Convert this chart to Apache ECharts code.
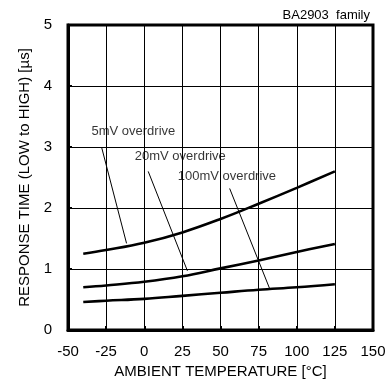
<!DOCTYPE html>
<html>
<head>
<meta charset="utf-8">
<script src="https://cdn.jsdelivr.net/npm/echarts@6/dist/echarts.min.js"></script>
<style>
html,body{margin:0;padding:0;background:#fff;}
#c{width:392px;height:384px;}
</style>
</head>
<body>
<div id="c"></div>
<script>
// Data
const temps = [-40, -25, 0, 25, 50, 75, 100, 125];
const od5mV = [1.25, 1.31, 1.43, 1.60, 1.82, 2.07, 2.33, 2.60];
const od20mV = [0.70, 0.73, 0.79, 0.88, 1.01, 1.14, 1.28, 1.41];
const od100mV = [0.46, 0.48, 0.51, 0.56, 0.61, 0.66, 0.70, 0.75];
const xTicks = [-50, -25, 0, 25, 50, 75, 100, 125, 150];
const yTicks = [0, 1, 2, 3, 4, 5];
const labelNames = ['5mV overdrive', '20mV overdrive', '100mV overdrive'];
const labelPos = [[-34.6, 3.25], [-6.2, 2.84], [22.0, 2.52]];
const leaderStart = [[-27.9, 2.99], [2.6, 2.60], [56.0, 2.32]];
const leaderEnd = [[-11.6, 1.42], [28.3, 0.97], [82.2, 0.68]];
const noteText = 'BA2903  family';

const font = 'Liberation Sans, Arial, sans-serif';
const chart = echarts.init(document.getElementById('c'), null, {renderer: 'canvas'});

const curveSeries = [od5mV, od20mV, od100mV].map(vals => ({
  type: 'line',
  data: temps.map((t, i) => [t, vals[i]]),
  smooth: 0.4,
  showSymbol: false,
  lineStyle: {color: '#000', width: 2.6},
  silent: true,
  z: 5
}));
const leaderSeries = leaderStart.map((s, i) => ({
  type: 'line',
  data: [s, leaderEnd[i]],
  showSymbol: false,
  lineStyle: {color: '#000', width: 1},
  silent: true,
  z: 4
}));
const labelSeries = {
  type: 'scatter',
  data: labelPos.map((p, i) => ({value: p, name: labelNames[i]})),
  symbolSize: 0,
  label: {
    show: true,
    position: 'right',
    distance: 0,
    formatter: p => p.name,
    color: '#000',
    fontSize: 13,
    fontFamily: font
  },
  silent: true,
  z: 6
};

chart.setOption({
  animation: false,
  backgroundColor: '#fff',
  grid: {left: 68, right: 19, top: 25, bottom: 54, show: true, borderColor: '#000', borderWidth: 3, backgroundColor: 'transparent'},
  title: {
    text: noteText, right: 17, top: 4,
    textStyle: {fontSize: 13, fontWeight: 'normal', color: '#000', fontFamily: font}
  },
  xAxis: {
    type: 'value', min: xTicks[0], max: xTicks[xTicks.length - 1], interval: 25,
    name: 'AMBIENT TEMPERATURE [°C]', nameLocation: 'middle', nameGap: 33,
    nameTextStyle: {fontSize: 15, color: '#000', fontFamily: font},
    axisLine: {show: true, onZero: false, lineStyle: {color: '#000', width: 3}},
    axisTick: {show: true, inside: true, length: 4, lineStyle: {color: '#000', width: 2}},
    axisLabel: {fontSize: 15, color: '#000', margin: 14, fontFamily: font},
    splitLine: {show: true, lineStyle: {color: '#000', width: 1}}
  },
  yAxis: {
    type: 'value', min: yTicks[0], max: yTicks[yTicks.length - 1], interval: 1,
    name: 'RESPONSE TIME (LOW to HIGH) [µs]', nameLocation: 'middle', nameGap: 35,
    nameTextStyle: {fontSize: 15, color: '#000', fontFamily: font},
    axisLine: {show: true, onZero: false, lineStyle: {color: '#000', width: 3}},
    axisTick: {show: true, inside: true, length: 4, lineStyle: {color: '#000', width: 2}},
    axisLabel: {fontSize: 15, color: '#000', margin: 16, fontFamily: font},
    splitLine: {show: true, lineStyle: {color: '#000', width: 1}}
  },
  series: [...curveSeries, ...leaderSeries, labelSeries]
});
</script>
</body>
</html>
